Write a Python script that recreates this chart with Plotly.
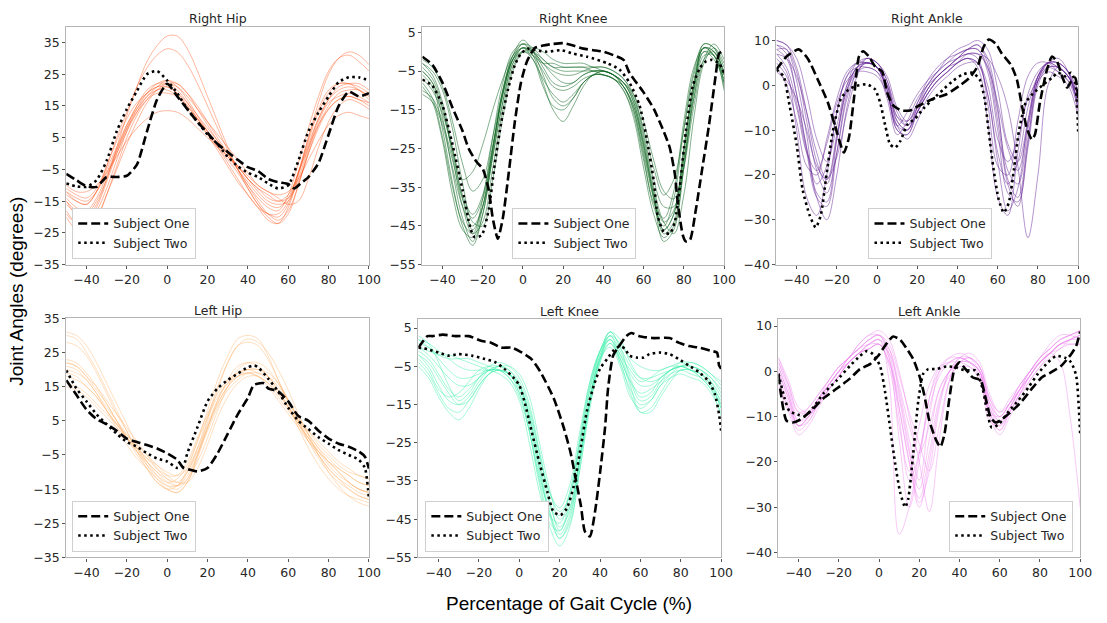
import plotly.graph_objects as go

# Shared gait-cycle grid (percent) for the individual trials
GAIT_PCT = list(range(-50, 101, 5))

# ---- individual trials (degrees) ----
RIGHT_HIP_TRIALS = [
    [-15, -19, -20, -16, -8, 2, 12, 21, 29, 34, 37, 37, 33, 26, 18, 10, 2, -5, -11, -16, -19, -19, -15, -6, 5, 16, 25, 30, 32, 31, 28],
    [-12, -15, -16, -12, -4, 5, 13, 21, 27, 31, 33, 32, 28, 22, 15, 8, 1, -5, -10, -14, -17, -18, -13, -3, 8, 18, 26, 30, 31, 29, 26],
    [-10, -12, -12, -10, -6, -1, 4, 8, 11, 13, 13.5, 13, 11, 8, 5, 2, -1, -4, -7, -10, -12, -13, -12, -8, -2, 4, 9, 12, 13, 12, 11],
    [-14, -17, -18, -14, -7, 0, 7, 13, 18, 20, 21, 19, 15, 11, 7, 3, -1, -5, -9, -13, -16, -17, -14, -6, 3, 11, 17, 20, 21, 20, 18],
    [-18, -22, -23, -20, -13, -5, 3, 10, 16, 20, 22, 22, 19, 15, 10, 5, 0, -5, -10, -15, -19, -21, -18, -10, 0, 9, 15, 19, 20, 20, 18],
    [-20, -24, -25, -21, -13, -4, 5, 12, 17, 20, 20, 18, 14, 10, 6, 2, -2, -6, -11, -16, -20, -22, -19, -10, 1, 10, 16, 18, 19, 18, 16],
    [-13, -15, -16, -12, -5, 2, 9, 14, 18, 21, 23, 22, 19, 14, 9, 4, 0, -4, -8, -12, -15, -16, -15, -8, 2, 11, 17, 21, 22, 22, 20],
    [-11, -13, -14, -11, -4, 4, 11, 16, 19, 21, 22, 21, 18, 14, 10, 6, 2, -2, -6, -10, -12, -14, -16, -15, -8, 2, 10, 15, 17, 16, 14],
    [-16, -19, -21, -18, -11, -2, 7, 14, 19, 22, 23, 21, 17, 12, 7, 2, -3, -8, -13, -17, -21, -22, -17, -7, 4, 13, 19, 22, 22, 21, 19],
    [-12, -14, -15, -12, -6, 1, 8, 13, 17, 19, 19, 18, 15, 11, 7, 3, -1, -4, -8, -11, -14, -15, -13, -6, 2, 9, 14, 17, 18, 17, 15],
    [-19, -22, -22, -17, -9, 0, 8, 15, 20, 22, 22, 20, 16, 11, 6, 1, -4, -9, -13, -17, -19, -20, -16, -6, 5, 14, 20, 22, 22, 20, 17],
    [-15, -18, -19, -15, -8, 1, 9, 15, 19, 21, 21, 19, 16, 12, 8, 4, 0, -4, -8, -11, -13, -15, -14, -9, 0, 8, 14, 17, 18, 17, 16],
]
RIGHT_KNEE_TRIALS = [
    [-3, -6, -13, -25, -38, -46, -40, -25, -10, -1, 2, 1, -2, -4, -4, -4, -4, -4, -5, -6, -9, -15, -26, -38, -46, -42, -25, -8, 1, -1, -6],
    [-5, -8, -17, -31, -43, -49, -42, -27, -13, -3, 1, -2, -7, -11, -13, -11, -8, -6, -5, -6, -8, -13, -24, -37, -47, -44, -28, -10, 0, -2, -7],
    [-2, -4, -9, -18, -29, -36, -33, -22, -10, -2, 0, -1, -3, -3, -4, -4, -4, -5, -5, -6, -8, -12, -20, -30, -37, -33, -20, -6, 1, 0, -5],
    [-8, -12, -22, -35, -44, -47, -38, -22, -8, 0, 2, -1, -8, -15, -18, -14, -9, -6, -6, -7, -9, -15, -27, -40, -45, -38, -20, -5, 2, 1, -6],
    [-4, -7, -14, -27, -40, -47, -44, -30, -15, -4, 0, 0, -2, -4, -5, -5, -5, -5, -6, -7, -10, -17, -30, -42, -48, -45, -30, -12, -1, -1, -8],
    [-10, -12, -18, -28, -38, -43, -38, -25, -11, -2, 1, -1, -5, -9, -10, -9, -7, -6, -6, -7, -10, -16, -28, -39, -43, -36, -18, -4, 1, -1, -9],
    [-6, -9, -20, -34, -45, -50, -42, -26, -11, -2, 2, 0, -4, -8, -9, -8, -6, -5, -5, -6, -9, -14, -25, -38, -49, -46, -30, -10, 2, 1, -4],
    [-7, -10, -16, -25, -33, -31, -24, -15, -7, -1, 1, 0, -3, -6, -8, -8, -6, -5, -5, -6, -8, -11, -18, -28, -36, -38, -28, -12, -2, 0, -6],
    [-3, -5, -10, -20, -34, -44, -45, -33, -17, -5, 0, 1, 0, -2, -3, -3, -3, -4, -4, -5, -7, -12, -22, -35, -44, -47, -37, -17, -3, 1, -3],
    [-9, -13, -23, -37, -46, -48, -40, -25, -10, -1, 3, 0, -6, -12, -14, -12, -8, -6, -6, -7, -9, -14, -24, -37, -46, -42, -25, -8, 1, 0, -8],
    [-5, -8, -15, -26, -37, -42, -37, -24, -11, -2, 1, 0, -3, -5, -6, -6, -5, -4, -4, -5, -7, -11, -21, -33, -40, -40, -30, -14, -2, 2, -2],
    [-11, -13, -19, -30, -40, -45, -40, -27, -13, -3, 0, -2, -9, -14, -15, -12, -8, -6, -5, -6, -8, -13, -23, -36, -44, -41, -26, -9, 0, -1, -10],
]
RIGHT_ANKLE_TRIALS = [
    [9, 7, -2, -14, -22, -18, -6, 2, 5, 5, 4, -2, -9, -6, -2, 1, 3, 5, 6, 7, 6, -4, -18, -20, -8, 2, 5, 5, 3, 1, -3],
    [8, 8, 3, -8, -19, -24, -15, -3, 3, 5, 4, 0, -8, -10, -5, -1, 2, 4, 6, 8, 8, 3, -10, -24, -26, -14, 0, 4, 4, 2, -2],
    [6, 3, -10, -25, -29, -20, -6, 2, 4, 4, 3, -3, -11, -8, -3, 0, 2, 4, 5, 6, 4, -8, -25, -29, -15, -2, 3, 5, 4, 2, -4],
    [10, 9, 6, -2, -12, -17, -9, 0, 4, 6, 5, 1, -7, -9, -4, 0, 3, 6, 8, 9, 10, 8, -1, -13, -17, -8, 2, 5, 5, 3, -1],
    [4, 0, -8, -18, -20, -12, -3, 3, 5, 5, 4, -1, -10, -11, -6, -2, 1, 3, 5, 6, 5, -2, -15, -22, -17, -5, 2, 4, 3, 1, -5],
    [7, 6, 2, -6, -15, -21, -16, -6, 2, 6, 5, 1, -6, -9, -6, -2, 1, 3, 5, 7, 7, 6, 2, -5, -18, -34, -20, 0, 4, 2, -2],
    [9, 8, 1, -11, -24, -26, -12, 0, 5, 6, 5, 2, -5, -8, -4, 1, 4, 6, 7, 8, 9, 6, -5, -21, -25, -12, 1, 5, 6, 3, -6],
    [5, 2, -5, -15, -19, -13, -4, 1, 3, 3, 2, -2, -9, -12, -8, -3, 0, 2, 4, 5, 5, 0, -12, -17, -12, -3, 1, 3, 2, 0, -7],
    [10, 9, 4, -6, -17, -22, -12, -1, 4, 5, 4, 0, -8, -10, -5, 0, 3, 5, 7, 8, 8, 4, -8, -22, -27, -13, 1, 5, 5, 3, -3],
    [7, 4, -4, -15, -25, -27, -15, -2, 4, 5, 4, -1, -10, -11, -6, -1, 2, 4, 6, 8, 9, 5, -6, -19, -22, -10, 2, 5, 4, 2, -4],
    [3, 1, -3, -10, -18, -21, -11, -1, 3, 4, 3, 0, -7, -8, -5, -1, 2, 4, 6, 7, 7, 4, -4, -14, -19, -9, 1, 4, 4, 2, -1],
    [8, 6, -2, -14, -25, -30, -20, -5, 3, 5, 4, -1, -9, -10, -6, -2, 1, 3, 5, 6, 5, -2, -17, -28, -23, -8, 2, 5, 5, 3, -5],
]
LEFT_HIP_TRIALS = [
    [30, 29, 25, 20, 14, 8, 2, -4, -9, -13, -15, -14, -9, -1, 8, 17, 24, 29, 30, 29, 24, 17, 10, 3, -3, -8, -12, -15, -17, -18, -19],
    [22, 21, 18, 14, 10, 5, 0, -4, -8, -11, -13, -12, -8, -1, 6, 12, 16, 19, 20, 20, 18, 14, 9, 4, 0, -4, -7, -10, -13, -15, -16],
    [20, 19, 17, 13, 9, 5, 1, -3, -7, -10, -12, -13, -10, -4, 3, 10, 15, 18, 19, 18, 15, 11, 7, 3, -1, -4, -7, -9, -11, -13, -14],
    [16, 15, 13, 10, 7, 4, 1, -2, -5, -8, -11, -13, -13, -9, -2, 6, 12, 16, 18, 18, 16, 13, 9, 5, 1, -3, -6, -9, -11, -13, -14],
    [23, 22, 19, 15, 10, 5, 0, -5, -9, -13, -15, -16, -13, -6, 3, 11, 17, 21, 22, 21, 18, 14, 9, 4, -1, -5, -9, -12, -14, -16, -17],
    [31, 30, 27, 22, 16, 10, 4, -2, -7, -11, -14, -14, -10, -3, 6, 15, 22, 27, 29, 28, 25, 20, 14, 7, 1, -5, -10, -14, -17, -19, -20],
    [18, 17, 15, 12, 8, 4, 0, -3, -6, -9, -11, -11, -7, 0, 7, 13, 17, 19, 20, 19, 17, 13, 9, 5, 2, -1, -4, -7, -9, -11, -12],
    [21, 20, 17, 13, 8, 3, -2, -6, -9, -12, -14, -15, -12, -5, 3, 10, 15, 18, 20, 20, 19, 16, 11, 5, 0, -5, -9, -12, -15, -17, -18],
    [19, 18, 15, 12, 8, 4, 0, -4, -7, -10, -13, -14, -11, -5, 2, 9, 14, 17, 19, 19, 18, 15, 11, 6, 1, -3, -7, -10, -13, -15, -16],
    [22, 21, 18, 15, 11, 7, 3, -1, -5, -9, -12, -14, -12, -7, 0, 8, 15, 20, 22, 22, 20, 16, 11, 6, 2, -2, -5, -8, -10, -11, -12],
    [15, 14, 12, 9, 6, 3, 0, -3, -6, -8, -10, -11, -9, -3, 4, 11, 16, 18, 19, 18, 16, 12, 8, 4, 0, -4, -8, -11, -13, -15, -16],
    [28, 27, 24, 19, 13, 7, 2, -3, -8, -12, -15, -16, -13, -5, 5, 14, 22, 27, 28, 27, 23, 17, 11, 5, -1, -6, -10, -13, -15, -17, -18],
]
LEFT_KNEE_TRIALS = [
    [1, 0, -2, -3, -3, -3, -4, -5, -6, -8, -12, -22, -35, -44, -46, -38, -24, -10, -1, 3, -2, -6, -9, -8, -6, -5, -4, -5, -6, -8, -12],
    [-2, -5, -10, -14, -15, -13, -9, -6, -5, -6, -10, -19, -32, -44, -50, -45, -30, -14, -3, 2, -4, -11, -15, -14, -10, -7, -5, -5, -6, -9, -15],
    [3, 1, -4, -10, -14, -12, -8, -5, -4, -5, -8, -15, -27, -38, -42, -36, -22, -9, -1, 4, 0, -8, -13, -12, -8, -6, -5, -6, -7, -10, -16],
    [-5, -8, -13, -17, -19, -16, -11, -7, -5, -6, -9, -16, -28, -40, -48, -42, -28, -13, -3, 1, -3, -10, -17, -17, -13, -9, -6, -6, -8, -11, -18],
    [0, -1, -2, -2, -3, -4, -5, -6, -7, -9, -14, -25, -38, -47, -52, -47, -32, -15, -4, 3, 1, -3, -5, -6, -6, -5, -5, -6, -7, -9, -13],
    [-3, -6, -11, -13, -12, -9, -6, -5, -5, -7, -11, -20, -33, -42, -44, -38, -25, -11, -2, 2, -3, -9, -12, -11, -9, -7, -6, -7, -8, -10, -14],
    [2, 0, -3, -6, -8, -8, -7, -6, -6, -7, -10, -18, -30, -41, -47, -43, -29, -14, -3, 4, 2, -4, -8, -9, -8, -6, -4, -4, -5, -7, -9],
    [-1, -3, -7, -11, -13, -11, -8, -6, -6, -8, -13, -22, -34, -43, -49, -44, -30, -14, -3, 0, -5, -13, -16, -14, -10, -8, -7, -8, -9, -12, -17],
    [2, 1, -1, -3, -5, -6, -6, -6, -6, -7, -10, -17, -28, -38, -43, -39, -26, -11, -1, 4, 0, -5, -8, -8, -7, -6, -5, -5, -6, -8, -11],
    [-4, -7, -12, -16, -17, -14, -10, -7, -6, -7, -10, -18, -31, -43, -50, -46, -32, -16, -4, 1, -4, -12, -17, -16, -12, -8, -6, -6, -7, -10, -16],
    [0, -2, -5, -8, -10, -10, -8, -6, -5, -5, -7, -13, -25, -37, -45, -42, -29, -13, -2, 3, -1, -7, -10, -10, -8, -6, -5, -4, -5, -7, -10],
    [-2, -4, -8, -12, -15, -14, -10, -7, -6, -7, -12, -22, -36, -46, -48, -40, -24, -9, -1, 2, -2, -9, -14, -13, -9, -6, -5, -6, -8, -11, -15],
]
LEFT_ANKLE_TRIALS = [
    [2, -4, -10, -8, -5, -2, 1, 3, 5, 7, 8, 3, -15, -30, -20, -6, 1, 3, 3, 2, 0, -9, -10, -7, -4, -1, 2, 4, 6, 7, 8],
    [0, -6, -12, -10, -6, -3, 0, 2, 4, 6, 7, -2, -36, -30, -18, -8, -1, 2, 3, 2, -1, -11, -12, -8, -4, 0, 3, 5, 7, 8, 9],
    [-2, -8, -13, -11, -7, -3, 0, 3, 5, 6, 6, 4, -4, -15, -24, -10, 0, 3, 4, 3, 0, -8, -11, -8, -4, -1, 2, 4, 5, 7, 8],
    [3, -3, -9, -8, -5, -2, 1, 3, 6, 8, 9, 7, 0, -10, -20, -31, -15, -2, 3, 3, 1, -6, -9, -6, -3, 0, 3, 5, 7, 8, 9],
    [-4, -9, -14, -12, -8, -4, -1, 2, 4, 5, 6, 1, -12, -22, -12, -3, 1, 2, 2, 1, -2, -10, -14, -10, -6, -2, 1, 3, 5, 6, 6],
    [1, -5, -11, -9, -6, -3, 0, 2, 4, 6, 7, 5, -3, -12, -18, -12, -4, 0, 2, 2, 0, -7, -10, -7, -3, 0, 3, 6, 8, 8, 7],
    [-1, -7, -12, -10, -7, -4, -1, 2, 4, 5, 6, 2, -8, -20, -28, -18, -6, -1, 1, 1, -1, -9, -13, -9, -5, -1, 2, 4, 2, -10, -30],
    [3, -2, -8, -9, -6, -3, 0, 3, 5, 7, 8, 5, -5, -17, -29, -22, -8, 0, 3, 4, 2, -5, -9, -7, -4, -1, 2, 4, 6, 7, 9],
    [1, -5, -11, -10, -7, -4, -1, 2, 4, 6, 7, 3, -10, -24, -18, -6, 0, 2, 3, 2, 0, -8, -12, -9, -5, -1, 2, 4, 6, 7, 8],
    [-3, -8, -12, -11, -7, -4, -1, 2, 4, 5, 6, 2, -6, -18, -26, -15, -4, 0, 2, 2, 0, -9, -13, -9, -5, -2, 1, 4, 6, 6, 6],
    [2, -3, -9, -9, -6, -3, 0, 3, 5, 7, 8, 6, -1, -9, -16, -22, -12, -2, 2, 3, 1, -6, -10, -7, -3, 0, 3, 5, 7, 8, 9],
    [0, -6, -12, -10, -6, -2, 1, 3, 6, 8, 8, 4, -8, -20, -30, -20, -7, 0, 2, 3, 1, -7, -11, -8, -4, 0, 2, 4, 6, 7, 7],
]

# ---- reference subjects: (gait %, angle) ----
RIGHT_HIP_ONE = [(-50, -6.4), (-45, -8.4), (-40, -10.3), (-35, -10.5), (-30, -7.4), (-25, -7.4), (-20, -7), (-15, -3.5),
                 (-10, 7), (-5, 17), (0, 22), (5, 18), (10, 14), (15, 10), (20, 6.5), (25, 3), (30, 0.5), (35, -2),
                 (40, -4.3), (45, -5.5), (50, -8), (55, -9), (60, -9.6), (63, -11), (66, -9.5), (70, -7.4), (75, -3),
                 (80, 6), (85, 15), (90, 19.5), (95, 18), (100, 19)]
RIGHT_HIP_TWO = [(-50, -9.4), (-45, -10.3), (-40, -10.5), (-35, -8.4), (-30, -2.3), (-25, 7), (-20, 14), (-15, 19.7),
                 (-10, 25), (-5, 26), (0, 23), (5, 19), (10, 14), (15, 10), (20, 6), (25, 3), (30, -1), (35, -4),
                 (40, -6), (45, -7.4), (50, -9.4), (55, -11), (60, -10), (65, -2.3), (70, 7), (75, 13), (80, 18),
                 (85, 22.5), (90, 24), (95, 24), (100, 23)]
RIGHT_KNEE_ONE = [(-50, -1.3), (-45, -3.4), (-40, -8), (-35, -14.5), (-30, -20.5), (-27, -25), (-23, -28.5),
                  (-20, -30.2), (-17, -35.7), (-15, -43), (-12.5, -48.3), (-10, -43), (-7, -31), (-4, -18), (-1, -8),
                  (2, -2.5), (6, 1), (10, 1.6), (15, 2), (20, 2.2), (25, 1.6), (30, 0.8), (35, 0.4), (40, 0),
                  (45, -0.9), (50, -2.1), (53, -5.5), (60, -10.5), (65, -14.7), (70, -20.6), (73, -24.8),
                  (75.5, -31.5), (77, -39), (79.5, -47.4), (81, -49), (83, -48.7), (86, -40.7), (89, -30.7),
                  (92.5, -19), (96, -5.5), (97.5, -0.5), (100, 0.4)]
RIGHT_KNEE_TWO = [(-50, -7.2), (-45, -8.8), (-40, -13.9), (-35, -24), (-30, -35.7), (-26, -45.8), (-24, -47.9),
                  (-20.5, -47.4), (-17, -40.7), (-14, -29), (-10.7, -18), (-7.4, -9.7), (-4, -3.4), (-1, -0.5),
                  (2.5, 0.8), (6, 0.4), (12, 0), (19, 0.4), (25, -0.5), (32, -1.3), (42, -3), (48, -4.6), (53, -8),
                  (58, -13.9), (61.5, -22.3), (65, -33.2), (67, -42.4), (70, -46.6), (73, -47), (75.5, -44),
                  (78, -34.8), (81, -20.6), (84.5, -8.8), (88, -4.2), (91, -2.5), (94, -2.1), (97.5, -3), (100, -5.5)]
RIGHT_ANKLE_ONE = [(-50, 3.5), (-45, 6.4), (-39, 8), (-34.5, 6), (-29.5, 1.3), (-24.5, -3.8), (-20.5, -9.6),
                   (-16.5, -15), (-14, -11.7), (-11.5, -3), (-9, 6.4), (-7, 7.6), (-4, 6.4), (-1, 4.2), (2.5, 3.1),
                   (5, -1.6), (8, -4.5), (12, -5.6), (16.5, -5.6), (21, -4.5), (28, -3), (34.5, -2), (41, -0.1),
                   (46, 1.7), (50, 4.2), (53, 8.6), (55.5, 10.2), (59, 9.3), (62, 7.1), (66.5, 4.6), (69.5, 1.3),
                   (72, -4.5), (74.5, -9.6), (77, -12.1), (78.5, -11), (81, -3.8), (84.5, 3.5), (87, 6.4),
                   (89.5, 5.3), (92, 2), (94.5, -0.5), (96.5, 0.9), (98.5, 1.7), (100, -3)]
RIGHT_ANKLE_TWO = [(-50, 3.5), (-46.5, 2), (-43.5, -4.5), (-40, -13.2), (-37, -23.3), (-33.5, -29), (-30.5, -31.7),
                   (-28, -29), (-25.5, -21.2), (-22, -10.3), (-18, -3), (-14, -0.9), (-10, -0.1), (-5, 0.2),
                   (-1, -0.9), (1.5, -3.8), (4, -8.8), (6.5, -13.2), (9, -13.9), (11.5, -12.5), (15, -8.8),
                   (19, -7.4), (23, -5.2), (28, -3), (33, -0.9), (37.5, 0.9), (42.5, 2.4), (47.5, 2.8), (51, 1.3),
                   (53.5, -3), (55.5, -10.3), (58, -19), (60.5, -25.5), (63, -28.4), (65.5, -26.2), (68, -19),
                   (70.5, -10.3), (74, -3.8), (78, -1.6), (82, -0.1), (87, 1.7), (90, 2.8), (93.5, 2), (96.5, 2.8),
                   (98.5, 0.6), (100, -10.3)]
LEFT_HIP_ONE = [(-50, 16.9), (-45, 12.6), (-40, 8.3), (-35, 5.5), (-30, 4), (-25, 2.1), (-20, -0.2), (-15, -1.2),
                (-10, -2.1), (-5, -3.1), (0, -4.5), (5, -6.4), (8, -8.8), (10, -9.1), (15, -9.8), (20, -8.8),
                (25, -4.5), (30, 1.2), (35, 6.9), (40, 11.7), (43, 15.5), (48, 16), (50, 14.5), (55, 13.6),
                (60, 10.7), (65, 6.4), (70, 5), (75, 2.1), (80, -0.2), (85, -1.7), (90, -2.6), (95, -4),
                (98, -5.5), (100, -9)]
LEFT_HIP_TWO = [(-50, 19.8), (-45, 14.5), (-40, 10.7), (-35, 6.9), (-30, 4), (-25, 1.2), (-20, -1.2), (-15, -2.6),
                (-10, -4.5), (-5, -6), (0, -6.9), (5, -8.8), (8, -8.3), (10, -4.5), (15, 3.1), (20, 10.7),
                (25, 14.5), (30, 16.9), (35, 18.8), (40, 20.7), (43, 21.2), (45, 20.7), (50, 17.4), (55, 13.6),
                (60, 8.8), (65, 5), (70, 2.6), (75, 0.2), (80, -1.7), (85, -3.6), (90, -5), (95, -6.4),
                (98, -8.8), (100, -17.9)]
LEFT_KNEE_ONE = [(-50, -0.1), (-45.5, 2.9), (-43, 2.9), (-38, 3.3), (-31.5, 2.9), (-25, 2.9), (-18.5, 1.6),
                 (-14, 1.2), (-9, -0.1), (-4, -0.1), (0, -1), (6, -3.1), (10.5, -6.5), (17, -13.3), (22, -21),
                 (25.5, -27.8), (28, -34.6), (30.5, -41.4), (32.5, -48.2), (35, -49.5), (37.5, -43.1), (40, -32.9),
                 (42.5, -21), (44, -10.7), (46.5, -2.2), (50, 0.7), (53, 2.9), (55.5, 3.7), (59.5, 2.9),
                 (66, 2.4), (74.5, 2.4), (79, 1.2), (84, 0.3), (89, -0.1), (95.5, -1), (98, -1.4), (99, -4.8),
                 (100, -5.6)]
LEFT_KNEE_TWO = [(-50, -0.1), (-45.5, -0.5), (-40, -1.4), (-35, -2.2), (-30, -1.8), (-23.5, -2.2), (-17, -3.1),
                 (-12, -3.9), (-7.5, -5.6), (-2.5, -8.2), (0, -9.9), (2.5, -14.1), (6, -21.8), (10, -30.3),
                 (14, -38), (17, -43.1), (20.5, -43.9), (23.5, -42.2), (27, -36.3), (30.5, -26.1), (33.5, -16.7),
                 (37, -9.9), (40, -5.6), (43.5, -3.1), (46.5, -1), (50, 0.3), (52.5, -0.5), (54.5, -2.2),
                 (58, -2.7), (61.5, -2.7), (64.5, -1.8), (69.5, -1.4), (74.5, -1.8), (79, -3.1), (84, -4.8),
                 (89, -6.5), (94, -9), (97, -12.4), (99, -17.6), (100, -21.8)]
LEFT_ANKLE_ONE = [(-50, -0.9), (-46, -10.9), (-43, -11.3), (-39, -10.6), (-34, -8.8), (-27.5, -5.9), (-21, -3.8),
                  (-14.5, -1.6), (-9.5, 0.5), (-4.5, 1.6), (-0.5, 3.4), (4, 6.3), (7, 7.7), (10.5, 7), (13.5, 5.2),
                  (17, 2.7), (20, -0.9), (22.5, -5.2), (25, -10.9), (28.5, -15.3), (30.5, -16.7), (32.5, -13.9),
                  (35, -5.9), (37.5, 0.5), (40, 2), (43, 0.5), (46.5, -1.3), (50.5, -2), (53, -5.9), (55.5, -10.2),
                  (58, -11.3), (61, -10.6), (66, -8.8), (71, -6.6), (76, -3.8), (81, -1.3), (85.5, -0.2),
                  (90.5, 1.2), (95.5, 3.8), (98, 5.6), (100, 8.8)]
LEFT_ANKLE_TWO = [(-50, -0.5), (-47, -5.9), (-44.5, -8.8), (-40.5, -9.5), (-37, -9.9), (-33, -8.1), (-27.5, -4.8),
                  (-21, -2), (-14.5, 1.2), (-9.5, 3.4), (-6, 4.5), (-3, 3.8), (0.5, 1.2), (3, -4.5), (5.5, -12.4),
                  (8, -20.3), (10.5, -26.7), (13, -30), (14.5, -28.2), (17, -18.1), (19.5, -6.6), (22, -0.5),
                  (24.5, 0.5), (28.5, 0.5), (33.5, 1.1), (38, 0.9), (43, 0.2), (48, 0.2), (51.5, -3.8),
                  (54, -9.5), (56, -12.4), (59.5, -11.7), (64.5, -8.8), (69.5, -6.3), (74.5, -3.4), (79, -0.5),
                  (84, 2), (88, 3.4), (92.5, 3), (95.5, 2), (98, -0.9), (100, -13.8)]

PANEL_TITLES = ["Right Hip", "Right Knee", "Right Ankle", "Left Hip", "Left Knee", "Left Ankle"]
Y_TICKS = [
    [-35, -25, -15, -5, 5, 15, 25, 35],
    [-55, -45, -35, -25, -15, -5, 5],
    [-40, -30, -20, -10, 0, 10],
    [-35, -25, -15, -5, 5, 15, 25, 35],
    [-55, -45, -35, -25, -15, -5, 5],
    [-40, -30, -20, -10, 0, 10],
]
X_TICKS = [-40, -20, 0, 20, 40, 60, 80, 100]

TRIALS = [RIGHT_HIP_TRIALS, RIGHT_KNEE_TRIALS, RIGHT_ANKLE_TRIALS,
          LEFT_HIP_TRIALS, LEFT_KNEE_TRIALS, LEFT_ANKLE_TRIALS]
SUBJECT_ONE = [RIGHT_HIP_ONE, RIGHT_KNEE_ONE, RIGHT_ANKLE_ONE, LEFT_HIP_ONE, LEFT_KNEE_ONE, LEFT_ANKLE_ONE]
SUBJECT_TWO = [RIGHT_HIP_TWO, RIGHT_KNEE_TWO, RIGHT_ANKLE_TWO, LEFT_HIP_TWO, LEFT_KNEE_TWO, LEFT_ANKLE_TWO]

# ---- styling / layout ----
W, H = 1107, 623
TRIAL_COLORS = [
    "rgba(255,69,0,0.45)",
    "rgba(10,100,30,0.6)",
    "rgba(95,25,145,0.55)",
    "rgba(255,165,80,0.42)",
    "rgba(60,240,170,0.55)",
    "rgba(238,130,238,0.5)",
]
# panel boxes in pixels: left, top, right, bottom
BOXES = [
    (67, 19, 373, 263), (427, 19, 732, 263), (785, 19, 1090, 263),
    (67, 318, 373, 563), (423, 319, 729, 563), (787, 319, 1092, 563),
]
Y_RANGES = [(-35, 40), (-55, 6.5), (-40, 13.1), (-35, 35), (-55, 7.3), (-41.1, 11.5)]
# legend anchor (pixel x, pixel y of bottom edge, x anchor)
LEGEND_POS = [(73, 257, "left"), (518, 257, "left"), (878, 257, "left"),
              (73, 557, "left"), (430, 557, "left"), (1085, 557, "right")]

TICK_FONT = dict(family="DejaVu Sans", size=12.5, color="#262626")
FRAME = "#b5b5b5"

fig = go.Figure()
layout = dict(
    width=W, height=H,
    margin=dict(l=0, r=0, t=0, b=0),
    paper_bgcolor="white", plot_bgcolor="white",
    showlegend=True,
    annotations=[],
)

for i in range(6):
    k = "" if i == 0 else str(i + 1)
    xa, ya = "x" + k, "y" + k
    leg = "legend" + k
    left, top, right, bottom = BOXES[i]

    for trial in TRIALS[i]:
        fig.add_trace(go.Scatter(
            x=GAIT_PCT, y=trial, mode="lines", xaxis=xa, yaxis=ya,
            line=dict(color=TRIAL_COLORS[i], width=0.85, shape="spline", smoothing=1.0),
            showlegend=False, hoverinfo="skip"))

    for name, pts, dash in (("Subject One", SUBJECT_ONE[i], "9px,4px"),
                            ("Subject Two", SUBJECT_TWO[i], "2.5px,3.5px")):
        fig.add_trace(go.Scatter(
            x=[p[0] for p in pts], y=[p[1] for p in pts], mode="lines",
            xaxis=xa, yaxis=ya, name=name, legend=leg,
            line=dict(color="black", width=2.6, dash=dash, shape="spline", smoothing=0.6)))

    layout["xaxis" + k] = dict(
        domain=[left / W, right / W], anchor=ya, range=[-50, 100],
        tickvals=X_TICKS, ticks="outside", ticklen=3, tickcolor="#555",
        tickfont=TICK_FONT, showgrid=False, zeroline=False,
        showline=True, linecolor=FRAME, linewidth=1.2, mirror=True)
    layout["yaxis" + k] = dict(
        domain=[1 - bottom / H, 1 - top / H], anchor=xa, range=list(Y_RANGES[i]),
        tickvals=Y_TICKS[i], ticks="outside", ticklen=3, tickcolor="#555",
        tickfont=TICK_FONT, showgrid=False, zeroline=False,
        showline=True, linecolor=FRAME, linewidth=1.2, mirror=True)

    lx, ly, lanchor = LEGEND_POS[i]
    layout[leg] = dict(
        x=lx / W, y=1 - ly / H, xanchor=lanchor, yanchor="bottom",
        bgcolor="white", bordercolor="#cfcfcf", borderwidth=1,
        font=dict(family="DejaVu Sans", size=12.5, color="#262626"),
        tracegroupgap=0, itemwidth=30)

    layout["annotations"].append(dict(
        text=PANEL_TITLES[i], xref="paper", yref="paper",
        x=(left + right) / 2 / W, y=1 - (top - 8) / H,
        xanchor="center", yanchor="middle", showarrow=False,
        font=dict(family="DejaVu Sans", size=12.5, color="#262626")))

layout["annotations"].append(dict(
    text="Joint Angles (degrees)", xref="paper", yref="paper",
    x=16 / W, y=1 - 290 / H, textangle=-90, showarrow=False,
    xanchor="center", yanchor="middle",
    font=dict(family="Liberation Sans", size=19, color="black")))
layout["annotations"].append(dict(
    text="Percentage of Gait Cycle (%)", xref="paper", yref="paper",
    x=575 / W, y=1 - 610 / H, showarrow=False,
    xanchor="center", yanchor="middle",
    font=dict(family="Liberation Sans", size=19, color="black")))

fig.update_layout(**layout)
fig.write_html("out.html")
